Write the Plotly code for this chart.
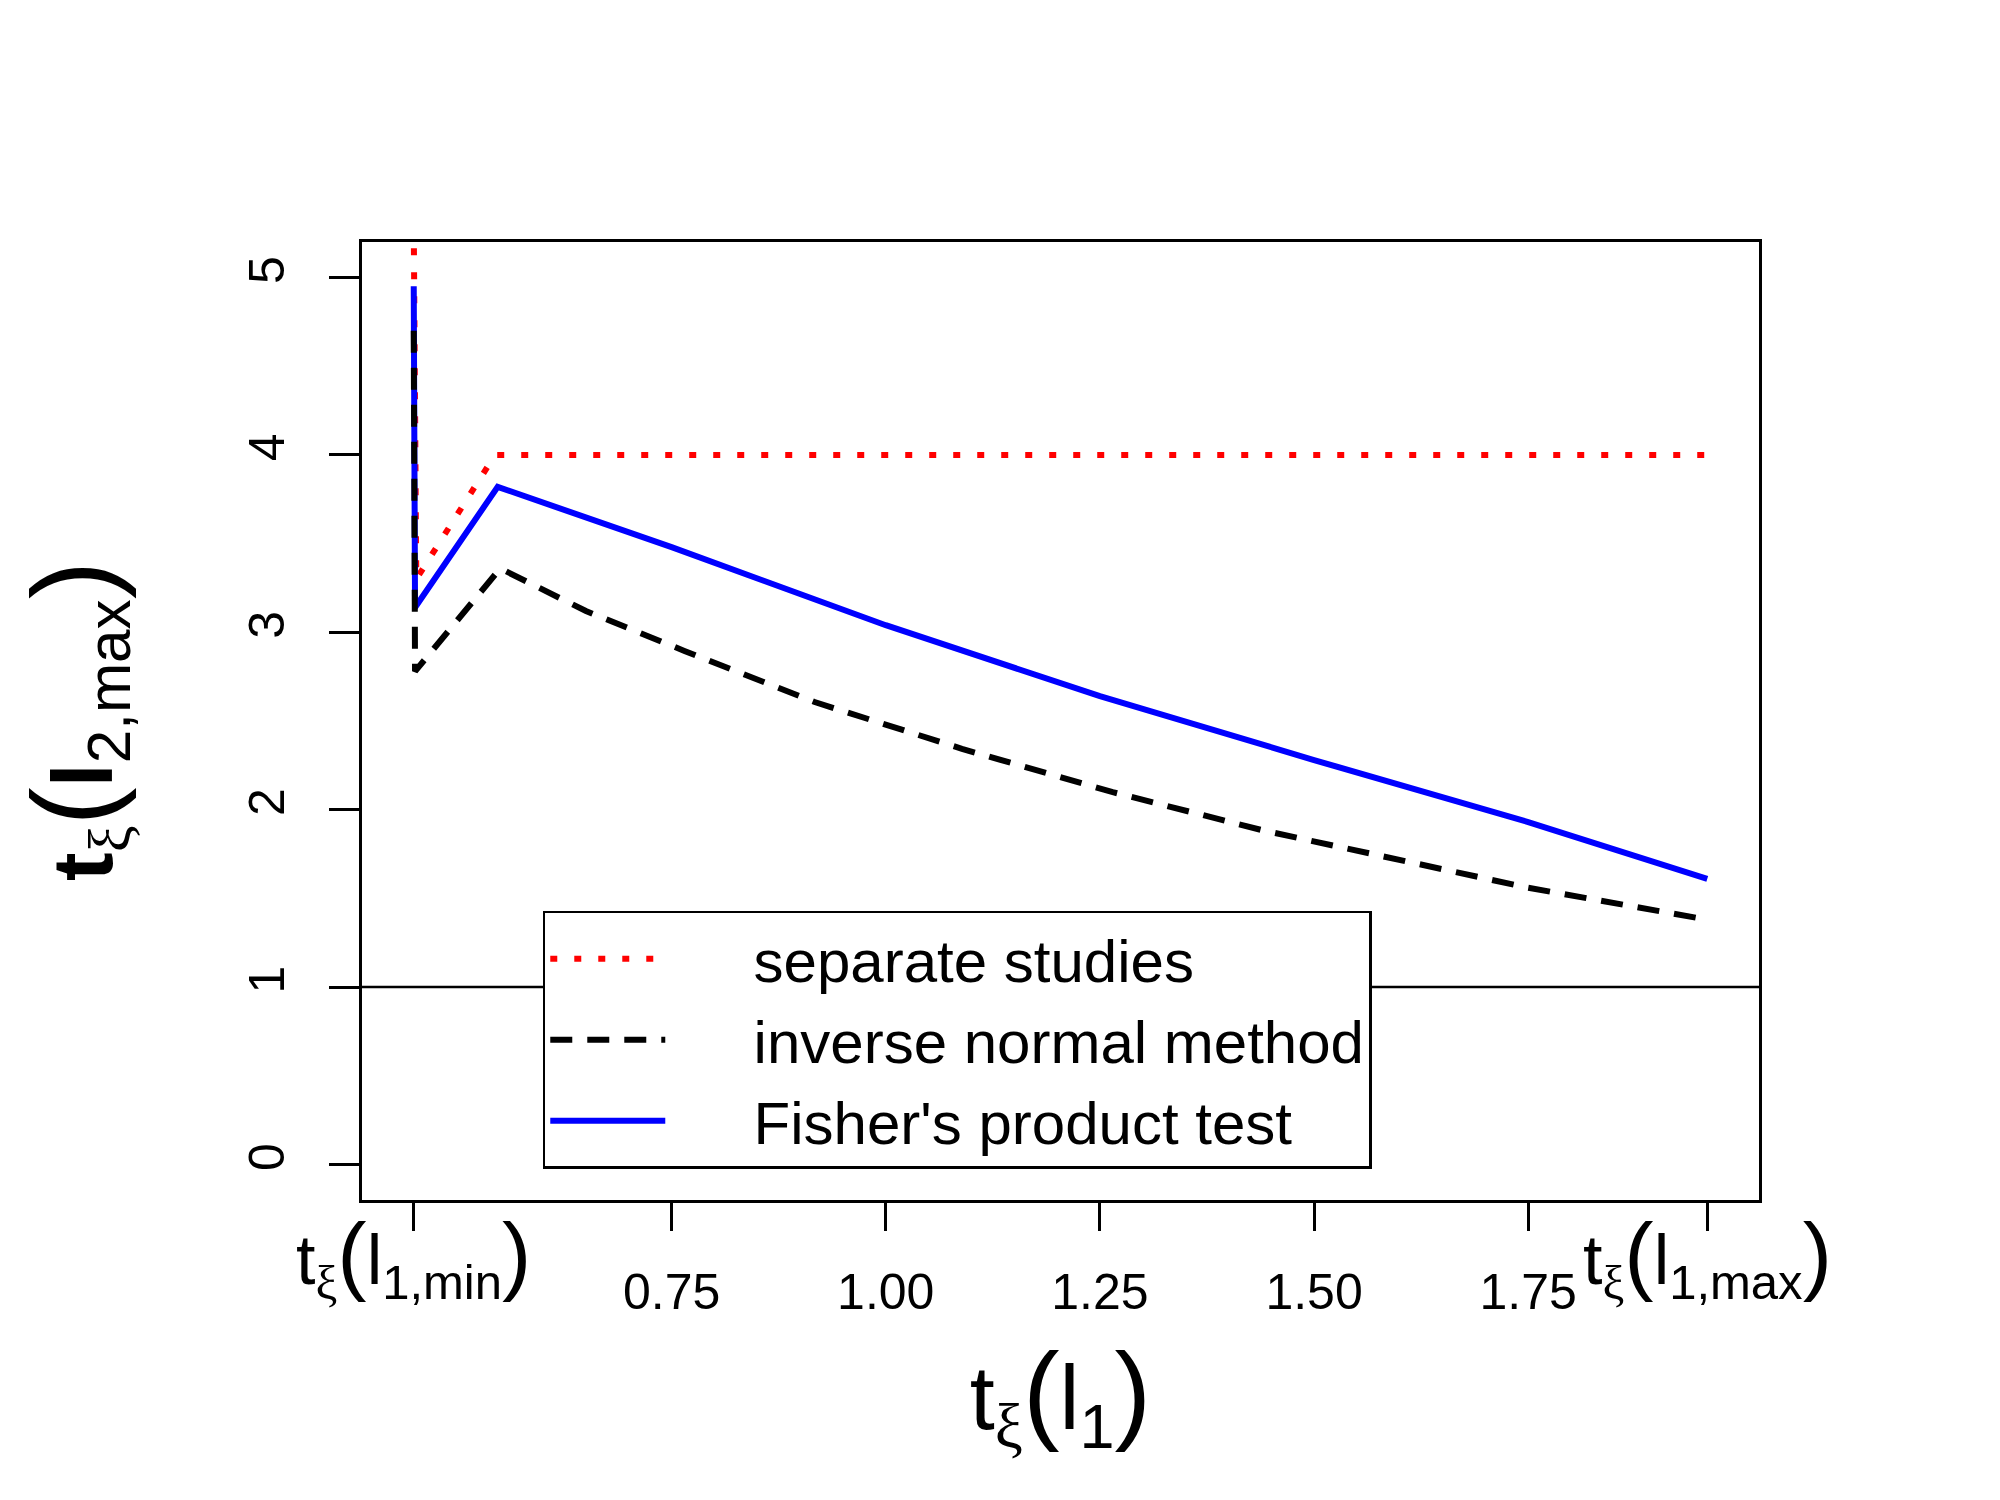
import plotly.graph_objects as go

# x positions (t_xi(l1)); first two points sit on the left bound t_xi(l1,min)
x_min = 0.449
x_max = 1.959
x_sep = [0.449, 0.452, 0.544, 0.75, 1.00, 1.25, 1.50, 1.75, 1.959]
y_sep = [5.30, 3.30, 4.00, 4.00, 4.00, 4.00, 4.00, 4.00, 4.00]

x_inv = [0.449, 0.4505, 0.550, 0.65, 0.765, 0.917, 1.089, 1.265, 1.44, 1.625, 1.75, 1.959]
y_inv = [4.70, 2.78, 3.36, 3.12, 2.895, 2.607, 2.343, 2.099, 1.884, 1.689, 1.56, 1.38]

x_fis = [0.449, 0.4505, 0.547, 0.75, 1.00, 1.25, 1.50, 1.75, 1.959]
y_fis = [4.95, 3.14, 3.82, 3.48, 3.04, 2.64, 2.28, 1.93, 1.61]

tick_vals = [0.75, 1.00, 1.25, 1.50, 1.75]
tick_text = ["0.75", "1.00", "1.25", "1.50", "1.75"]

FONT = "Liberation Sans, Arial, sans-serif"
XI = "<span style='font-family:Liberation Serif'>ξ</span>"
GAP = "\u00a0" * 5


def big(s, size):
    return "<span style='font-size:%dpx'>%s</span>" % (size, s)


fig = go.Figure()
fig.add_trace(go.Scatter(x=x_sep, y=y_sep, mode="lines", name=GAP + "separate studies",
                         legendrank=1,
                         line=dict(color="#ff0000", width=6, dash="7px,17px")))
fig.add_trace(go.Scatter(x=x_fis, y=y_fis, mode="lines", name=GAP + "Fisher's product test",
                         legendrank=3,
                         line=dict(color="#0000ff", width=6)))
fig.add_trace(go.Scatter(x=x_inv, y=y_inv, mode="lines", name=GAP + "inverse normal method",
                         legendrank=2,
                         line=dict(color="black", width=6, dash="22px,15px")))

fig.add_hline(y=1, line=dict(color="black", width=2.5), layer="below")

pad = 0.04 * (x_max - x_min)

fig.update_layout(
    width=2000, height=1500,
    margin=dict(l=354, r=249, t=234, b=308),
    paper_bgcolor="white", plot_bgcolor="white",
    font=dict(family=FONT, color="black", size=50),
    showlegend=True,
    legend=dict(x=0.1294, y=0.302, xanchor="left", yanchor="top",
                bgcolor="white", bordercolor="black", borderwidth=2.5,
                font=dict(size=60), itemwidth=115,
                entrywidth=795, entrywidthmode="pixels",
                tracegroupgap=0),
)

fig.update_xaxes(
    range=[x_min - pad, x_max + pad],
    tickvals=[x_min] + tick_vals + [x_max],
    ticktext=[""] + tick_text + [""],
    ticks="outside", ticklen=28, tickwidth=2.5, tickcolor="black",
    ticklabelstandoff=18,
    showline=True, linecolor="black", linewidth=2.5, mirror=True,
    showgrid=False, zeroline=False,
    tickfont=dict(size=50),
    title=dict(text="t<sub>" + XI + "</sub>" + big("(", 110) + "l<sub>1</sub>" + big(")", 110),
               font=dict(size=90), standoff=48),
)
fig.update_yaxes(
    range=[-0.2, 5.2],
    tickvals=[0, 1, 2, 3, 4, 5],
    ticks="outside", ticklen=30, tickwidth=2.5, tickcolor="black",
    tickangle=-90, ticklabelstandoff=25,
    showline=True, linecolor="black", linewidth=2.5, mirror=True,
    showgrid=False, zeroline=False,
    tickfont=dict(size=50),
    title=dict(text="<b>t</b><sub>" + XI + "</sub>" + big("(", 115) + "<b>l</b><sub>2,max</sub>" + big(")", 115),
               font=dict(size=86), standoff=100),
)

# math labels at the two ends of the x range
for xv, sub in [(x_min, "1,min"), (x_max, "1,max")]:
    fig.add_annotation(
        x=xv, y=-0.060, xref="x", yref="paper", xanchor="center", yanchor="middle",
        text="t<sub>" + XI + "</sub>" + big("(", 88) + "l<sub>" + sub + "</sub>" + big(")", 88),
        showarrow=False, font=dict(size=70, family=FONT),
    )

fig.write_html("out.html")
